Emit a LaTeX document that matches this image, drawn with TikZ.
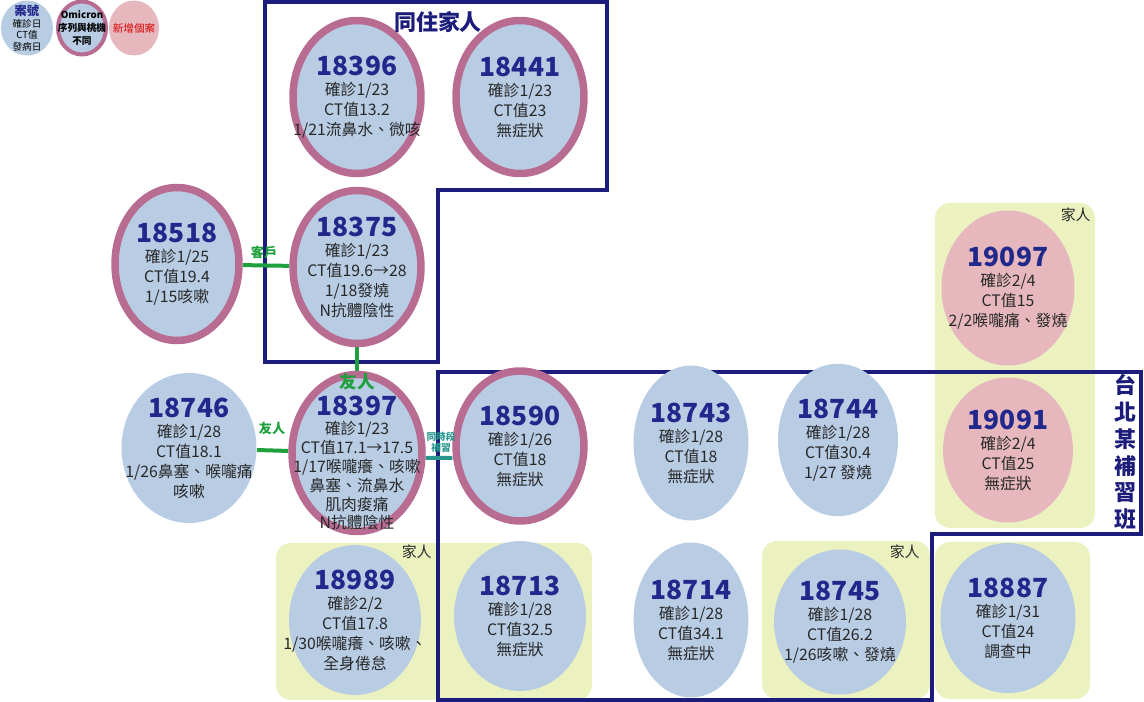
\documentclass[tikz,border=0pt]{standalone}
\usepackage{fontspec}
\setmainfont{Noto Sans CJK TC}
\usepackage{xcolor}
\usepackage{tikz}
\usetikzlibrary{shapes.geometric, positioning, calc}
\definecolor{caseBlue}{RGB}{184, 204, 228}
\definecolor{ringMauve}{RGB}{184, 108, 146}
\definecolor{newPink}{RGB}{230, 184, 190}
\definecolor{familyYellow}{RGB}{236, 241, 192}
\definecolor{boxNavy}{RGB}{28, 28, 122}
\definecolor{numNavy}{RGB}{32, 40, 140}
\definecolor{tieGreen}{RGB}{30, 160, 60}
\definecolor{classTeal}{RGB}{40, 150, 140}
\definecolor{bodyGray}{RGB}{40, 40, 40}
\pgfdeclarelayer{bg}
\pgfdeclarelayer{links}
\pgfsetlayers{bg,links,main}
\newcommand{\casenum}[1]{\textcolor{numNavy}{\fontsize{15}{17}\selectfont\bfseries #1}}

\begin{document}
\begin{tikzpicture}[x=0.02cm, y=-0.02cm,
    plaincase/.style={ellipse, fill=caseBlue, minimum width=2.64cm, minimum height=3cm, inner sep=0pt},
    ringcase/.style={ellipse, fill=caseBlue, draw=ringMauve, line width=0.15cm, minimum width=2.56cm, minimum height=3.06cm, inner sep=0pt},
    newcase/.style={ellipse, fill=newPink, minimum width=2.66cm, minimum height=3cm, inner sep=0pt},
    casetext/.style={align=center, text=bodyGray, font=\fontsize{9}{11.4}\selectfont, inner sep=0pt},
    family/.style={fill=familyYellow, rounded corners=0.3cm},
    familytag/.style={anchor=north east, font=\fontsize{8.5}{10}\selectfont, text=bodyGray, inner sep=0pt},
    groupline/.style={draw=boxNavy, line width=0.08cm},
    grouptag/.style={align=center, text=boxNavy, font=\fontsize{12.5}{15.3}\selectfont\bfseries, inner sep=0pt},
    tie/.style={draw=tieGreen, line width=0.08cm},
    tietag/.style={text=tieGreen, font=\fontsize{7.5}{8}\selectfont\bfseries, inner sep=0pt},
    legendtext/.style={align=center, font=\fontsize{5.5}{6.6}\selectfont, inner sep=0pt}]

    \useasboundingbox (0,0) rectangle (1144,702);

    % Family backgrounds
    \begin{pgfonlayer}{bg}
        \fill[family] (276,543) rectangle (592,700);
        \fill[family] (762,541) rectangle (930,699);
        \fill[family] (935,203) rectangle (1095,528);
        \fill[family] (935,542) rectangle (1090,699);
    \end{pgfonlayer}

    % Legend
    \node[plaincase, minimum width=1.04cm, minimum height=1.1cm] (keyBlue) at (27,28) {};
    \node[legendtext] at (keyBlue) {\textcolor{numNavy}{\fontsize{7}{8}\selectfont\bfseries 案號}\\確診日\\CT值\\發病日};
    \node[ringcase, line width=0.08cm, minimum width=0.96cm, minimum height=1.06cm] (keyRing) at (82,28) {};
    \node[legendtext, font=\fontsize{5.5}{7.5}\selectfont\bfseries] at (keyRing) {Omicron\\序列與桃機\\不同};
    \node[newcase, minimum width=1cm, minimum height=1.1cm] (keyNew) at (134,28) {};
    \node[legendtext, font=\fontsize{6}{7}\selectfont, text=red!85!black] at (keyNew) {新增個案};

    % Household cases
    \node[ringcase] (c18396) at (357,97) {};
    \node[casetext] at (c18396) {\casenum{18396}\\確診1/23\\CT值13.2\\1/21流鼻水、微咳};
    \node[ringcase] (c18441) at (520,97) {};
    \node[casetext] at (c18441) {\casenum{18441}\\確診1/23\\CT值23\\無症狀};
    \node[ringcase, minimum width=2.48cm] (c18518) at (177,264) {};
    \node[casetext] at (c18518) {\casenum{18518}\\確診1/25\\CT值19.4\\1/15咳嗽};
    \node[ringcase] (c18375) at (357,267) {};
    \node[casetext] at (c18375) {\casenum{18375}\\確診1/23\\CT值19.6→28\\1/18發燒\\N抗體陰性};

    % Middle row
    \node[plaincase, minimum width=2.7cm] (c18746) at (189,448) {};
    \node[casetext] at (c18746) {\casenum{18746}\\確診1/28\\CT值18.1\\1/26鼻塞、喉嚨痛\\咳嗽};
    \node[ringcase, minimum width=2.6cm, minimum height=3.14cm] (c18397) at (357,453) {};
    \node[casetext, font=\fontsize{9}{10.8}\selectfont] at ([yshift=-0.2cm]c18397) {\casenum{18397}\\確診1/23\\CT值17.1→17.5\\1/17喉嚨癢、咳嗽\\鼻塞、流鼻水\\肌肉痠痛\\N抗體陰性};
    \node[ringcase, minimum height=3cm] (c18590) at (520,446) {};
    \node[casetext] at (c18590) {\casenum{18590}\\確診1/26\\CT值18\\無症狀};
    \node[plaincase, minimum width=2.3cm, minimum height=3.1cm] (c18743) at (691,443) {};
    \node[casetext] at (c18743) {\casenum{18743}\\確診1/28\\CT值18\\無症狀};
    \node[plaincase, minimum width=2.4cm, minimum height=3.05cm] (c18744) at (838,440) {};
    \node[casetext] at (c18744) {\casenum{18744}\\確診1/28\\CT值30.4\\1/27 發燒};
    \node[newcase, minimum height=3.1cm] (c19097) at (1008,288) {};
    \node[casetext] at (c19097) {\casenum{19097}\\確診2/4\\CT值15\\2/2喉嚨痛、發燒};
    \node[newcase, minimum width=2.6cm, minimum height=2.9cm] (c19091) at (1008,450) {};
    \node[casetext] at (c19091) {\casenum{19091}\\確診2/4\\CT值25\\無症狀};

    % Bottom row
    \node[plaincase] (c18989) at (355,620) {};
    \node[casetext] at (c18989) {\casenum{18989}\\確診2/2\\CT值17.8\\1/30喉嚨癢、咳嗽、\\全身倦怠};
    \node[plaincase] (c18713) at (520,616) {};
    \node[casetext] at (c18713) {\casenum{18713}\\確診1/28\\CT值32.5\\無症狀};
    \node[plaincase, minimum width=2.3cm, minimum height=3.1cm] (c18714) at (691,620) {};
    \node[casetext] at (c18714) {\casenum{18714}\\確診1/28\\CT值34.1\\無症狀};
    \node[plaincase, minimum height=2.9cm] (c18745) at (840,622) {};
    \node[casetext] at (c18745) {\casenum{18745}\\確診1/28\\CT值26.2\\1/26咳嗽、發燒};
    \node[plaincase, minimum width=2.7cm] (c18887) at (1008,618) {};
    \node[casetext] at (c18887) {\casenum{18887}\\確診1/31\\CT值24\\調查中};

    % Groups and links
    \begin{pgfonlayer}{links}
        \draw[groupline] (265,2) -- (607,2) -- (607,190) -- (438,190) -- (438,362) -- (265,362) -- cycle;
        \draw[groupline] (438,372) -- (1141,372) -- (1141,534) -- (932,534) -- (932,700) -- (438,700) -- cycle;
        \draw[tie] (c18518) -- (c18375);
        \draw[tie] (c18375) -- (c18397);
        \draw[tie] (c18746) -- (c18397);
        \draw[tie, draw=classTeal] ([yshift=-0.1cm]c18397.east) -- ([yshift=-0.24cm]c18590.west);
    \end{pgfonlayer}

    % Labels
    \node[grouptag] at (438,22) {同住家人};
    \node[grouptag] at (1125,452) {台\\北\\某\\補\\習\\班};
    \node[familytag] at (432,545) {家人};
    \node[familytag] at (920,545) {家人};
    \node[familytag] at (1091,208) {家人};
    \node[tietag] at (264,252) {客戶};
    \node[tietag] at (272,428) {友人};
    \node[tietag, font=\fontsize{10}{11}\selectfont\bfseries] at (357,382) {友人};
    \node[tietag, align=center, text=classTeal, font=\fontsize{5.5}{6.5}\selectfont\bfseries] at (441,442) {同時段\\補習};
\end{tikzpicture}
\end{document}
